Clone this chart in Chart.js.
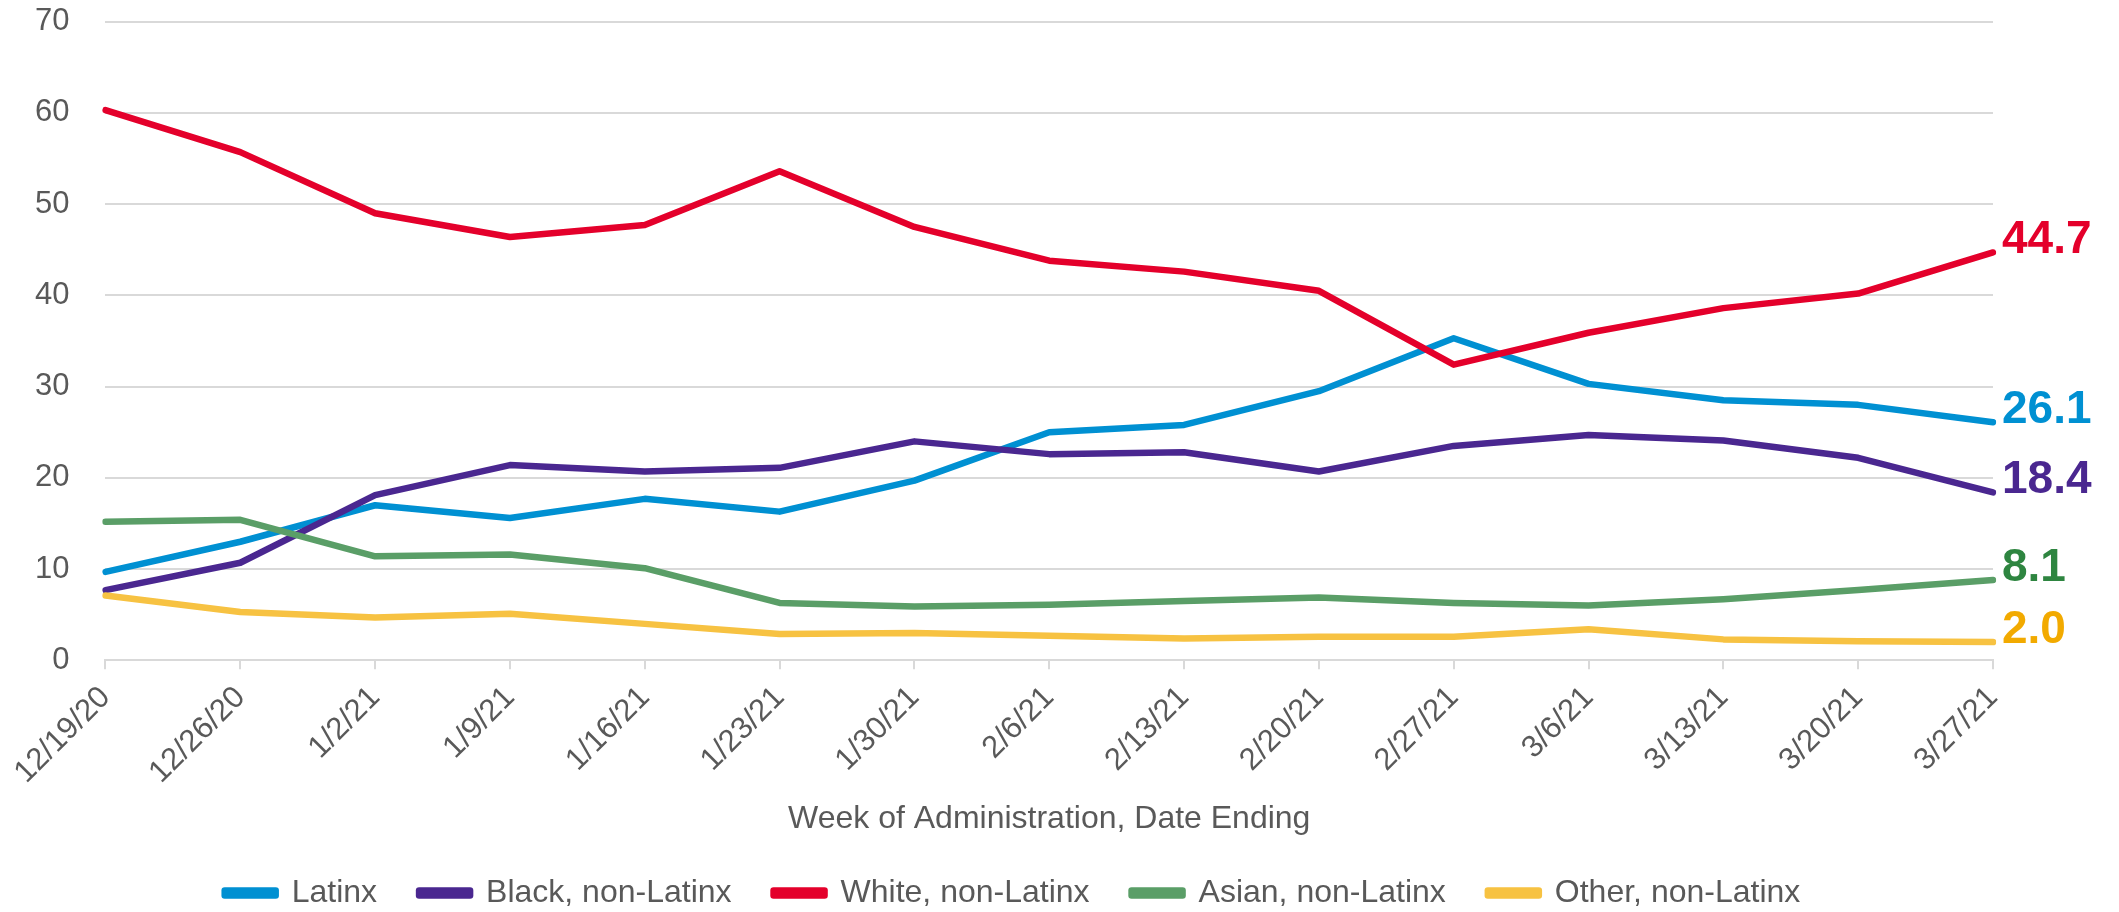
<!DOCTYPE html>
<html>
<head>
<meta charset="utf-8">
<script src="https://cdn.jsdelivr.net/npm/chart.js@4.4.1/dist/chart.umd.min.js"></script>
<style>
  html, body { margin: 0; padding: 0; background: #fff; }
  #wrap { width: 2119px; height: 912px; position: relative; }
</style>
</head>
<body>
<div id="wrap"><canvas id="chart"></canvas></div>
<script>
// Semanas (data final)
const weeks = ['12/19/20', '12/26/20', '1/2/21', '1/9/21', '1/16/21', '1/23/21', '1/30/21',
  '2/6/21', '2/13/21', '2/20/21', '2/27/21', '3/6/21', '3/13/21', '3/20/21', '3/27/21'];

// Valores por grupo (%)
const latinx = [9.7, 13.0, 17.0, 15.6, 17.7, 16.3, 19.7, 25.0, 25.8, 29.5, 35.3, 30.3, 28.5, 28.0, 26.1];
const black  = [7.7, 10.7, 18.1, 21.4, 20.7, 21.1, 24.0, 22.6, 22.8, 20.7, 23.5, 24.7, 24.1, 22.2, 18.4];
const white  = [60.3, 55.7, 49.0, 46.4, 47.7, 53.6, 47.5, 43.8, 42.6, 40.5, 32.4, 35.9, 38.6, 40.2, 44.7];
const asian  = [15.2, 15.4, 11.4, 11.6, 10.1, 6.3, 5.9, 6.1, 6.5, 6.9, 6.3, 6.0, 6.7, 7.7, 8.8];
const other  = [7.1, 5.3, 4.7, 5.1, 4.0, 2.9, 3.0, 2.7, 2.4, 2.6, 2.6, 3.4, 2.3, 2.1, 2.0];

// Rótulos no fim de cada linha
const endLabels = ['26.1', '18.4', '44.7', '8.1', '2.0'];

const seriesNames = ['Latinx', 'Black, non-Latinx', 'White, non-Latinx', 'Asian, non-Latinx', 'Other, non-Latinx'];
const seriesData = [latinx, black, white, asian, other];
const lineColors = ['#0090d2', '#4a2790', '#e4002b', '#5a9e67', '#f7c242'];
const labelColors = ['#0090d2', '#4a2790', '#e4002b', '#2e8540', '#f2aa00'];

const FONT = "'Liberation Sans', Arial, sans-serif";
const GREY = '#595959';
const GRID = '#d9d9d9';

// Plugin para escrever o último valor à direita de cada linha
const endLabelPlugin = {
  id: 'endLabels',
  afterDatasetsDraw(chart) {
    const ctx = chart.ctx;
    ctx.save();
    ctx.font = 'bold 46px ' + FONT;
    ctx.textAlign = 'left';
    ctx.textBaseline = 'middle';
    chart.data.datasets.forEach((ds, i) => {
      const meta = chart.getDatasetMeta(i);
      const pt = meta.data[meta.data.length - 1];
      ctx.fillStyle = labelColors[i];
      ctx.fillText(endLabels[i], pt.x + 9, pt.y - 12);
    });
    ctx.restore();
  }
};

const ctx = document.getElementById('chart').getContext('2d');
new Chart(ctx, {
  type: 'line',
  data: {
    labels: weeks,
    datasets: seriesData.map((d, i) => ({
      label: seriesNames[i],
      data: d,
      borderColor: lineColors[i],
      backgroundColor: lineColors[i],
      borderWidth: 6.5,
      borderCapStyle: 'round',
      borderJoinStyle: 'round',
      pointRadius: 0,
      tension: 0,
      order: seriesData.length - i // a última série fica por cima, como no Excel
    }))
  },
  options: {
    responsive: true,
    maintainAspectRatio: false,
    animation: false,
    devicePixelRatio: 1,
    layout: { padding: { top: 21, left: 32, right: 126, bottom: -7 } },
    plugins: {
      tooltip: { enabled: false },
      legend: {
        position: 'bottom',
        labels: {
          sort: (a, b) => a.datasetIndex - b.datasetIndex,
          boxWidth: 51,
          boxHeight: 5,
          padding: 42,
          color: GREY,
          font: { family: FONT, size: 32 }
        }
      }
    },
    scales: {
      x: {
        offset: false,
        grid: {
          display: true,
          drawOnChartArea: false,
          color: GRID,
          lineWidth: 2,
          tickLength: 9
        },
        border: { display: true, color: GRID, width: 2 },
        ticks: {
          color: GREY,
          font: { family: FONT, size: 31 },
          maxRotation: 45,
          minRotation: 45,
          autoSkip: false,
          padding: 10
        },
        title: {
          display: true,
          text: 'Week of Administration, Date Ending',
          color: GREY,
          font: { family: FONT, size: 32, lineHeight: 1 },
          padding: { top: 2, bottom: 0 }
        }
      },
      y: {
        min: 0,
        max: 70,
        ticks: {
          stepSize: 10,
          color: GREY,
          padding: 3,
          font: { family: FONT, size: 31 }
        },
        // marcas invisíveis só para afastar os números do eixo
        grid: { color: GRID, lineWidth: 2, drawTicks: true, tickLength: 33, tickColor: 'rgba(0,0,0,0)' },
        border: { display: false }
      }
    }
  },
  plugins: [endLabelPlugin]
});
</script>
</body>
</html>
